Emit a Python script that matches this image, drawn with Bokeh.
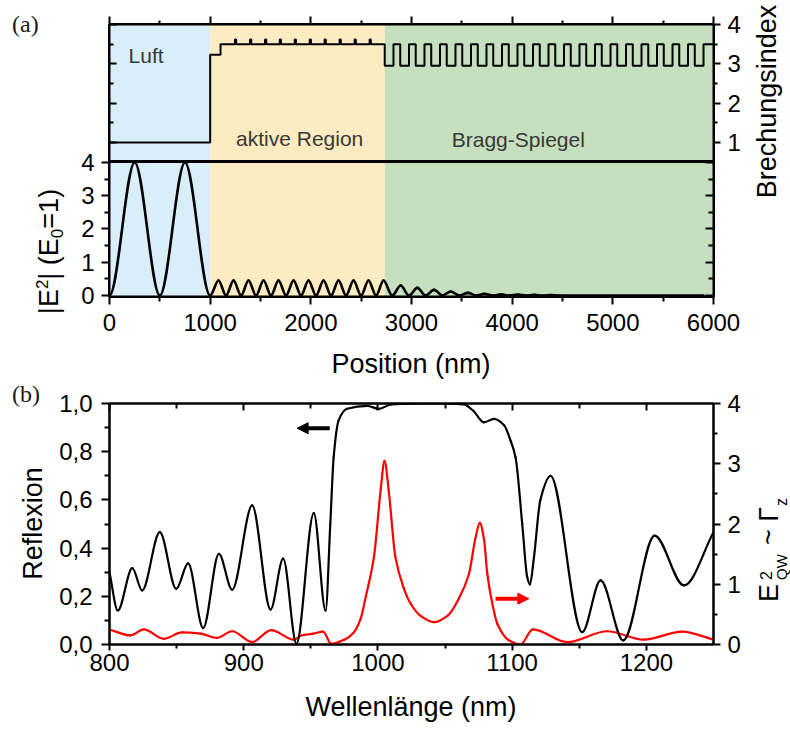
import math
import html
import numpy as np
from bokeh.plotting import figure
from bokeh.models import (Range1d, LinearAxis, FixedTicker, CustomJSTickFormatter,
                          BoxAnnotation, Label, Arrow, NormalHead, ColumnDataSource, Div,
                          Span)
from bokeh.layouts import column, row
from bokeh.embed import file_html
from bokeh.resources import INLINE

# ---------------- data: panel (a) ----------------
region_start = [0, 1000, 2734]
region_end = [1000, 2734, 6000]
region_names = ["Luft", "aktive Region", "Bragg-Spiegel"]
region_colors = ["#DAEEF9", "#FDEBC1", "#C5DFBF"]

# refractive index profile (layer starts in nm, index)
layer_start = [0, 1000, 1103]
layer_n = [1.0, 3.23, 3.5]
qw_pos = [1252, 1402, 1551, 1697, 1846, 1995, 2143, 2292, 2441, 2590]
qw_n = 3.62
n_active = 3.5
dbr_low_start = [2734, 2888, 3042, 3196, 3350, 3504, 3658, 3812, 3966, 4120, 4274,
                 4428, 4582, 4736, 4890, 5044, 5198, 5352, 5506, 5660, 5814]
dbr_high_start = [2821, 2975, 3129, 3283, 3437, 3591, 3745, 3899, 4053, 4207, 4361,
                  4515, 4669, 4823, 4977, 5131, 5285, 5439, 5593, 5747, 5901]
n_low = 2.95
n_high = 3.5
pos_end = 6000

# |E^2| extrema along position (nm)
e_pos = [0, 250, 500, 750, 1000,
         1083, 1158, 1232, 1307, 1381, 1456, 1530, 1605, 1679, 1754, 1828, 1903,
         1977, 2052, 2126, 2201, 2275, 2350, 2424, 2499, 2573, 2648, 2722,
         2808, 2893, 2975, 3058, 3141, 3224, 3307, 3390, 3475, 3560, 3642, 3725,
         3808, 3890, 3972, 4055, 4138, 4220, 4302, 4385, 4470, 5900]
e_val = [0, 4.0, 0, 4.0, 0,
         0.45, 0, 0.45, 0, 0.45, 0, 0.45, 0, 0.45, 0, 0.45, 0,
         0.45, 0, 0.45, 0, 0.45, 0, 0.45, 0, 0.45, 0, 0.45,
         0, 0.30, 0, 0.23, 0, 0.17, 0, 0.12, 0, 0.08, 0, 0.05,
         0, 0.035, 0, 0.025, 0, 0.018, 0, 0.012, 0, 0]
e_top = 4.03  # top of the |E^2| layer (frame line between the two layers)

# ---------------- data: panel (b) ----------------
refl_wl = [800, 806.2, 817, 824.3, 837.5, 849.7, 858.6, 869.8, 881.5, 891.4, 906.3, 920,
           929.4, 939.3, 952.2, 961, 964.5, 967, 970.7, 977, 992, 1000.7, 1010, 1040,
           1064, 1071, 1079, 1086.4, 1094, 1098.8, 1102.5, 1107.5, 1111.2, 1113.2,
           1116.2, 1121, 1128.6, 1152.2, 1165.9, 1182.8, 1206.1, 1228, 1250]
refl_val = [0.30, 0.141, 0.317, 0.224, 0.466, 0.231, 0.337, 0.068, 0.376, 0.227, 0.577,
            0.145, 0.356, 0.003, 0.545, 0.141, 0.50, 0.777, 0.93, 0.978, 0.99, 0.978,
            0.996, 1.0, 0.996, 0.97, 0.922, 0.936, 0.91, 0.846, 0.777, 0.50, 0.28, 0.249,
            0.36, 0.60, 0.70, 0.051, 0.266, 0.017, 0.452, 0.245, 0.466]

gam_wl = [800, 815.6, 825.6, 840.5, 854, 868, 880, 891.4, 906.3, 920.5, 937.3, 943, 952,
          959.2, 965.2, 975, 982, 987, 991, 997, 1002, 1004.9, 1008, 1013, 1019, 1024.3,
          1032, 1041.7, 1052, 1060, 1067.8, 1072.5, 1075.9, 1079, 1081.5, 1085, 1089,
          1097.5, 1106.2, 1115.4, 1141, 1170.8, 1198, 1226.7, 1250]
gam_val = [0.25, 0.15, 0.25, 0.094, 0.2, 0.18, 0.11, 0.22, 0.04, 0.24, 0.08, 0.15, 0.18,
           0.215, 0.01, 0.08, 0.2, 0.42, 0.8, 1.45, 2.56, 3.05, 2.56, 1.45, 0.95, 0.68,
           0.47, 0.37, 0.48, 0.75, 1.17, 1.75, 2.02, 1.75, 1.17, 0.7, 0.34,
           0.07, 0.0, 0.25, 0.04, 0.22, 0.08, 0.215, 0.08]

FONT = "Liberation Sans"
SERIF = "Liberation Serif"
TICK_FS = "24px"


def smooth_source(xs, ys, start_slope=None, end_slope=None):
    """Monotone cubic (PCHIP) tangents -> bezier segments through the read points."""
    xs = np.asarray(xs, float)
    ys = np.asarray(ys, float)
    h = np.diff(xs)
    d = np.diff(ys) / h
    m = np.zeros(len(xs))
    for k in range(1, len(xs) - 1):
        if d[k - 1] * d[k] > 0:
            w1 = 2 * h[k] + h[k - 1]
            w2 = h[k] + 2 * h[k - 1]
            m[k] = (w1 + w2) / (w1 / d[k - 1] + w2 / d[k])
    m[0] = d[0] if start_slope is None else start_slope
    m[-1] = d[-1] if end_slope is None else end_slope
    return ColumnDataSource(dict(
        x0=xs[:-1], y0=ys[:-1], x1=xs[1:], y1=ys[1:],
        cx0=xs[:-1] + h / 3, cy0=ys[:-1] + m[:-1] * h / 3,
        cx1=xs[1:] - h / 3, cy1=ys[1:] - m[1:] * h / 3))


def make_axis(ticks, minor, labels=True, maj_in=0, maj_out=8, min_in=0, min_out=5,
              standoff=8, formatter=None, line=True, **kw):
    ax = LinearAxis(ticker=FixedTicker(ticks=ticks, minor_ticks=minor), **kw)
    ax.axis_line_width = 2
    ax.axis_line_color = "black" if line else None
    ax.major_tick_line_width = 2
    ax.minor_tick_line_width = 2
    ax.major_tick_line_color = "black"
    ax.minor_tick_line_color = "black"
    ax.major_tick_in = maj_in
    ax.major_tick_out = maj_out
    ax.minor_tick_in = min_in
    ax.minor_tick_out = min_out
    ax.major_label_text_font = FONT
    ax.major_label_text_color = "black"
    if labels:
        ax.major_label_text_font_size = TICK_FS
        ax.major_label_standoff = standoff
        if formatter is not None:
            ax.formatter = formatter
    else:
        ax.formatter = CustomJSTickFormatter(code="return '';")
        ax.major_label_text_font_size = "0px"
        ax.major_label_standoff = 0
    return ax


def base_fig(width, height, xr, yr, left, right, top, bottom, outline=3):
    p = figure(width=width, height=height, x_range=xr, y_range=yr,
               x_axis_location=None, y_axis_location=None,
               toolbar_location=None, output_backend="svg",
               min_border_left=left, min_border_right=right,
               min_border_top=top, min_border_bottom=bottom)
    p.background_fill_color = "white"
    p.border_fill_color = "white"
    p.outline_line_color = "black"
    p.outline_line_width = outline
    p.outline_line_alpha = 1.0
    for g in p.grid:
        g.visible = False
    return p


def text_div(x0, y0, x1, y1, items):
    """Div holding an inline SVG; items are placed in page pixel coordinates."""
    w, h = x1 - x0, y1 - y0
    out = [f'<svg xmlns="http://www.w3.org/2000/svg" width="{w}" height="{h}" '
           f'style="display:block">']
    for it in items:
        x = it["x"] - x0
        y = it["y"] - y0
        tr = f' transform="rotate(-90 {x} {y})"' if it.get("rot") else ""
        body = it["markup"] if "markup" in it else html.escape(it["text"])
        style = (f"font-family:'{it.get('font', FONT)}';font-size:{it['size']}px;"
                 f"fill:{it.get('color', 'black')}")
        out.append(f'<text x="{x}" y="{y}"{tr} text-anchor="{it.get("anchor", "start")}" '
                   f'style="{style}">{body}</text>')
    out.append("</svg>")
    return Div(text="".join(out), width=w, height=h, margin=(0, 0, 0, 0))


pos_ticks = [0, 1000, 2000, 3000, 4000, 5000, 6000]
pos_minor = [500, 1500, 2500, 3500, 4500, 5500]

# ---------------- panel (a): one figure, page x 75..750, y 0..346 ----------------
pA = base_fig(675, 346, Range1d(0, 6000), Range1d(-0.03, 8.15), 34, 37, 24, 50)
pA.extra_y_ranges = {"n": Range1d(-2.91, 4.0)}
for s_, e_, c_ in zip(region_start, region_end, region_colors):
    pA.add_layout(BoxAnnotation(left=s_, right=e_, fill_color=c_, fill_alpha=1.0,
                                line_alpha=0, level="underlay"))

step_x, step_y = [], []
for s_, n_ in zip(layer_start, layer_n):
    step_x.append(s_)
    step_y.append(n_)
qw_half = 6
for q in qw_pos:
    step_x += [q - qw_half, q + qw_half]
    step_y += [qw_n, n_active]
for lo, hi in zip(dbr_low_start, dbr_high_start):
    step_x += [lo, hi]
    step_y += [n_low, n_high]
step_x.append(pos_end)
step_y.append(n_high)
pA.step(step_x, step_y, mode="after", line_color="black", line_width=2, y_range_name="n")

pA.bezier(x0="x0", y0="y0", x1="x1", y1="y1", cx0="cx0", cy0="cy0", cx1="cx1", cy1="cy1",
          source=smooth_source(e_pos, e_val, 0.0, 0.0), line_color="black",
          line_width=2.6, line_cap="round")
pA.add_layout(Span(location=e_top, dimension="width", line_color="black", line_width=3))

# axes
pA.add_layout(make_axis(pos_ticks, pos_minor, labels=False, maj_out=8, min_out=4), "above")
pA.add_layout(make_axis(pos_ticks, pos_minor, maj_out=8, min_out=5, standoff=9), "below")
pA.add_layout(make_axis([0, 1, 2, 3, 4], [0.5, 1.5, 2.5, 3.5], maj_out=8, min_out=5,
                        standoff=7), "left")
pA.add_layout(make_axis([1, 2, 3, 4], [1.5, 2.5, 3.5], maj_out=7, min_out=4, standoff=7,
                        y_range_name="n"), "right")
# mirrored inner ticks: upper layer on the left, lower layer on the right
pA.add_layout(make_axis([1, 2, 3, 4], [1.5, 2.5, 3.5], labels=False, maj_in=7, maj_out=0,
                        min_in=4, min_out=0, line=False, y_range_name="n",
                        fixed_location=0), "left")
pA.add_layout(make_axis([0, 1, 2, 3, 4], [0.5, 1.5, 2.5, 3.5], labels=False, maj_in=8,
                        maj_out=0, min_in=5, min_out=0, line=False,
                        fixed_location=6000), "right")

lab_col = "#383838"
for nm, lx, ly, al in zip(region_names, [189, 1889, 4061], [3.22, 1.10, 1.07],
                          ["left", "center", "center"]):
    pA.add_layout(Label(x=lx, y=ly, text=nm, text_font=FONT, text_font_size="21px",
                        text_align=al, text_baseline="alphabetic", text_color=lab_col,
                        y_range_name="n"))

e_label = ('|E<tspan style="font-size:17px" dy="-10">2</tspan><tspan dy="10">| (E</tspan>'
           '<tspan style="font-size:17px" dy="5">0</tspan><tspan dy="-5">=1)</tspan>')
div_a_left = text_div(0, 0, 75, 346, [
    dict(x=12, y=32, text="(a)", size=24, font=SERIF, color="#1a1a1a"),
    dict(x=58, y=251.5, markup=e_label, size=27, rot=True, anchor="middle"),
])
div_a_right = text_div(750, 0, 790, 346, [
    dict(x=776, y=101.5, text="Brechungsindex", size=27, rot=True, anchor="middle"),
])
div_x1 = text_div(0, 346, 790, 379, [
    dict(x=411, y=373, text="Position (nm)", size=27, anchor="middle"),
])

# ---------------- panel (b) (page x 50..755, y 379..686) ----------------
p3 = base_fig(705, 307, Range1d(800, 1250), Range1d(0, 1.0), 59, 42, 24, 42, outline=2)
p3.extra_y_ranges = {"right": Range1d(0, 4)}
p3.bezier(x0="x0", y0="y0", x1="x1", y1="y1", cx0="cx0", cy0="cy0", cx1="cx1", cy1="cy1",
          source=smooth_source(gam_wl, gam_val), line_color="#FF0000", line_width=2.2,
          line_cap="round", y_range_name="right")
p3.bezier(x0="x0", y0="y0", x1="x1", y1="y1", cx0="cx0", cy0="cy0", cx1="cx1", cy1="cy1",
          source=smooth_source(refl_wl, refl_val), line_color="black", line_width=2.2,
          line_cap="round")

comma_fmt = CustomJSTickFormatter(code="return tick.toFixed(1).replace('.', ',');")
p3.add_layout(make_axis([0, 0.2, 0.4, 0.6, 0.8, 1.0], [0.1, 0.3, 0.5, 0.7, 0.9],
                        maj_out=8, min_out=5, standoff=9, formatter=comma_fmt), "left")
p3.add_layout(make_axis([0, 1, 2, 3, 4], [0.5, 1.5, 2.5, 3.5], maj_out=7, min_out=4,
                        standoff=7, y_range_name="right"), "right")
wl_ticks = [800, 900, 1000, 1100, 1200]
wl_minor = [850, 950, 1050, 1150]
p3.add_layout(make_axis(wl_ticks, wl_minor, maj_out=6, min_out=4, standoff=3), "below")
p3.add_layout(make_axis(wl_ticks, wl_minor, labels=False, maj_in=7, maj_out=0, min_in=5,
                        min_out=0), "above")

p3.add_layout(Arrow(end=NormalHead(size=11, fill_color="black", line_color="black"),
                    x_start=964.1, y_start=0.8975, x_end=939.8, y_end=0.8975,
                    line_width=4, line_color="black"))
p3.add_layout(Arrow(end=NormalHead(size=11, fill_color="#FF0000", line_color="#FF0000"),
                    x_start=1087.6, y_start=0.19, x_end=1112.4, y_end=0.19,
                    line_width=4, line_color="#FF0000"))

div_b_left = text_div(0, 379, 50, 686, [
    dict(x=12, y=402, text="(b)", size=24, font=SERIF, color="#1a1a1a"),
    dict(x=42, y=523.5, text="Reflexion", size=27, rot=True, anchor="middle"),
])
div_b_right = text_div(755, 379, 790, 686, [
    dict(x=778, y=602, text="E", size=27, rot=True),
    dict(x=771.5, y=580, text="2", size=16, rot=True),
    dict(x=787, y=580, text="QW", size=15, rot=True),
    dict(x=778, y=545, text="~ Γ", size=27, rot=True),
    dict(x=787, y=506, text="z", size=16, rot=True),
])
div_x2 = text_div(0, 686, 790, 729, [
    dict(x=411, y=716, text="Wellenlänge (nm)", size=27, anchor="middle"),
])

layout = column(row(div_a_left, pA, div_a_right),
                div_x1,
                row(div_b_left, p3, div_b_right),
                div_x2)
open("out.html", "w").write(file_html(layout, INLINE, title="Reflexion"))
